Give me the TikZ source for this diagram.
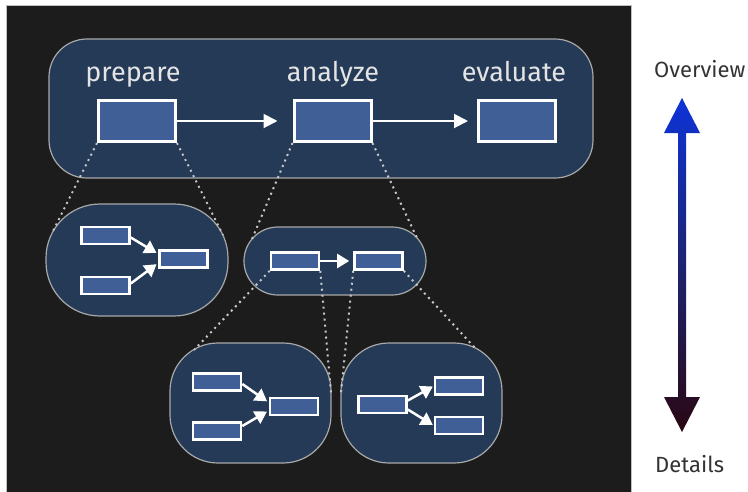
\documentclass[tikz,border=0pt]{standalone}
\usepackage{fontspec}
\setmainfont{Fira Sans}
\usetikzlibrary{arrows.meta}
\definecolor{bgdark}{HTML}{1C1C1C}
\definecolor{cont}{HTML}{243A57}
\definecolor{boxfill}{HTML}{3F5F96}
\definecolor{contline}{HTML}{A8A8A8}
\definecolor{labtext}{HTML}{E4E4E4}
\definecolor{sidetext}{HTML}{333333}
\definecolor{dotcol}{HTML}{C8C8C8}
\definecolor{arrtop}{HTML}{0E33D8}
\definecolor{arrmid}{HTML}{1D2470}
\definecolor{arrbot}{HTML}{2A0712}
\begin{document}
\begin{tikzpicture}[x=1pt,y=-1pt,
  container/.style={draw=contline, line width=1.2pt, fill=cont, inner sep=0pt},
  bigbox/.style={draw=white, line width=3pt, fill=boxfill, minimum width=77pt, minimum height=41pt, inner sep=0pt},
  smallbox/.style={draw=white, line width=2.6pt, fill=boxfill, minimum width=48pt, minimum height=17pt, inner sep=0pt},
  biglabel/.style={text=labtext, font=\fontsize{27}{32}\selectfont, anchor=base, inner sep=0pt},
  sidelabel/.style={text=sidetext, font=\fontsize{22}{26}\selectfont, anchor=base west, inner sep=0pt},
  flowarrow/.style={draw=white, line width=2pt, -{Triangle[length=14pt,width=14pt]}},
  smallarrow/.style={draw=white, line width=2.5pt, -{Triangle[length=12pt,width=14pt]}},
  zoomline/.style={draw=dotcol, line width=2pt, dash pattern=on 2pt off 4pt}
]
\useasboundingbox (0,0) rectangle (748,491);
\fill[white] (0,0) rectangle (748,491);
\draw[fill=bgdark, draw=black!25, line width=1pt] (6,5) rectangle (631,500);

% containers
\node[container, minimum width=544pt, minimum height=139pt, rounded corners=38pt] (top) at (321,108.5) {};
\node[container, minimum width=182pt, minimum height=112pt, rounded corners=54pt] (cprep) at (137,260) {};
\node[container, minimum width=182pt, minimum height=68pt, rounded corners=33.9pt] (canal) at (335,261) {};
\node[container, minimum width=161pt, minimum height=120pt, rounded corners=48pt] (cbl) at (250.5,403) {};
\node[container, minimum width=161pt, minimum height=120pt, rounded corners=48pt] (cbr) at (421.5,403) {};

% top-level steps
\node[bigbox] (prep) at (137,121) {};
\node[bigbox] (anal) at (332.5,121) {};
\node[bigbox] (eval) at (517,121) {};
\node[biglabel] (lprep) at (133,81) {prepare};
\node[biglabel] (lanal) at (333,81) {analyze};
\node[biglabel] (leval) at (514,81) {evaluate};
\draw[flowarrow, shorten >=15pt] (prep.east) -- (anal.west);
\draw[flowarrow, shorten >=9pt] (anal.east) -- (eval.west);

% detail of prepare
\node[smallbox] (pa) at (105.5,235.5) {};
\node[smallbox] (pb) at (105.5,285.5) {};
\node[smallbox] (pc) at (183.5,259) {};
\draw[smallarrow, shorten >=2pt] ([yshift=-2pt]pa.east) -- ([yshift=5pt]pc.west);
\draw[smallarrow, shorten >=2pt] ([yshift=2pt]pb.east) -- ([yshift=-4pt]pc.west);

% detail of analyze
\node[smallbox] (aa) at (295,261) {};
\node[smallbox] (ab) at (378.5,261) {};
\draw[smallarrow, shorten >=4pt] (aa.east) -- (ab.west);

% deeper details
\node[smallbox] (la) at (217,382) {};
\node[smallbox] (lb) at (217,431) {};
\node[smallbox] (lc) at (294,406.5) {};
\draw[smallarrow, shorten >=2pt] ([yshift=-2pt]la.east) -- ([yshift=4pt]lc.west);
\draw[smallarrow, shorten >=2pt] ([yshift=5pt]lb.east) -- ([yshift=-4pt]lc.west);

\node[smallbox] (ra) at (382.5,404.5) {};
\node[smallbox] (rb) at (459,386) {};
\node[smallbox] (rc) at (459,425.5) {};
\draw[smallarrow, shorten >=1pt] ([yshift=4pt]ra.east) -- (rb.west);
\draw[smallarrow, shorten >=1pt] ([yshift=-5pt]ra.east) -- (rc.west);

% zoom lines
\coordinate (e1) at (52,233);
\coordinate (e2) at (223,235);
\coordinate (e3) at (252,239);
\coordinate (e4) at (417,238);
\coordinate (e5) at (194,350);
\coordinate (e6) at (331,393);
\coordinate (e7) at (341,393);
\coordinate (e8) at (476,349);
\draw[zoomline] (prep.south west) -- (e1);
\draw[zoomline] (prep.south east) -- (e2);
\draw[zoomline] (anal.south west) -- (e3);
\draw[zoomline] (anal.south east) -- (e4);
\draw[zoomline] (aa.south west) -- (e5);
\draw[zoomline] (aa.south east) -- (e6);
\draw[zoomline] (ab.south west) -- (e7);
\draw[zoomline] (ab.south east) -- (e8);

% scale arrow
\node[sidelabel] (over) at (654,77) {Overview};
\node[sidelabel] (det) at (655,472) {Details};
\shade[top color=arrtop, bottom color=arrbot, middle color=arrmid]
  (682,98) -- (700,133) -- (686,133) -- (686,397) -- (700,397) -- (682,432)
  -- (664,397) -- (678,397) -- (678,133) -- (664,133) -- cycle;
\end{tikzpicture}
\end{document}
